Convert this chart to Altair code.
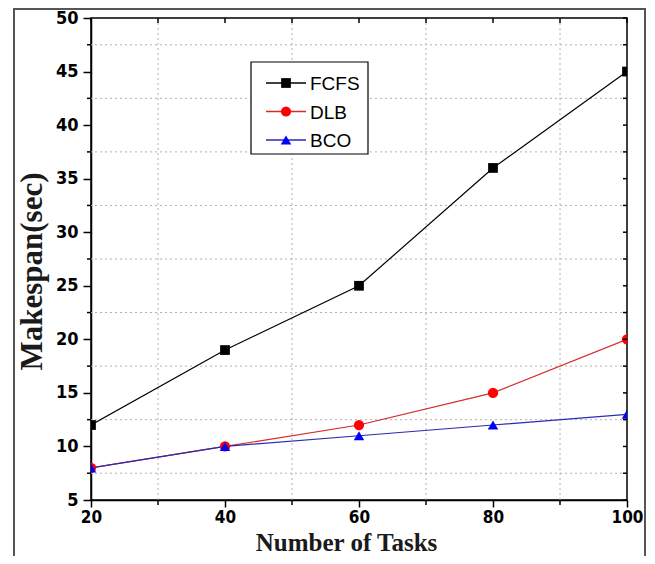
import altair as alt
import pandas as pd

# ---- data ----
tasks = [20, 40, 60, 80, 100]
fcfs = [12, 19, 25, 36, 45]
dlb = [8, 10, 12, 15, 20]
bco = [8, 10, 11, 12, 13]

series_names = ["FCFS", "DLB", "BCO"]
series_values = [fcfs, dlb, bco]
line_colors = ["#000000", "#d42a2a", "#2a2ab4"]
marker_colors = ["#000000", "#ff0000", "#0000ff"]
shapes = ["square", "circle", "triangle-up"]
marker_sizes = [95, 105, 110]

x_major = [20, 40, 60, 80, 100]
x_minor = [30, 50, 70, 90]
y_major = [5, 10, 15, 20, 25, 30, 35, 40, 45, 50]
y_minor = [7.5, 12.5, 17.5, 22.5, 27.5, 32.5, 37.5, 42.5, 47.5]

W, H = 536, 482
LABEL_FONT = "Liberation Sans Narrow, Arial Narrow, DejaVu Sans Condensed, sans-serif"
TITLE_FONT = "Liberation Serif, Times New Roman, serif"

xs = alt.Scale(domain=[20, 100], nice=False, zero=False)
ys = alt.Scale(domain=[5, 50], nice=False, zero=False)

x_axis = alt.Axis(
    values=x_major, tickSize=7, tickWidth=1.5, tickColor="black",
    domainColor="black", domainWidth=1.5, grid=False,
    labelFont=LABEL_FONT, labelFontSize=17, labelFontWeight="bold", labelColor="black",
    labelPadding=2, labelFlush=False,
    title="Number of Tasks", titleFont=TITLE_FONT, titleFontSize=25, titleFontWeight="bold",
    titleColor="#1a1a1a", titleX=255, titleY=50, titleBaseline="alphabetic", titleAlign="center",
)
y_axis = alt.Axis(
    values=y_major, tickSize=8, tickWidth=1.5, tickColor="black",
    domainColor="black", domainWidth=1.5, grid=False,
    labelFont=LABEL_FONT, labelFontSize=18, labelFontWeight="bold", labelColor="black",
    labelPadding=5, labelFlush=False,
    title="Makespan(sec)", titleFont=TITLE_FONT, titleFontSize=31, titleFontWeight="bold",
    titleColor="#1a1a1a", titleX=-59, titleY=253, titleAngle=-90,
    titleBaseline="middle", titleAlign="center",
)


def X(field):
    return alt.X(field, scale=xs, axis=x_axis)


def Y(field):
    return alt.Y(field, scale=ys, axis=y_axis)


rows = []
for name, vals in zip(series_names, series_values):
    for t, v in zip(tasks, vals):
        rows.append({"series": name, "tasks": t, "value": v})
df = pd.DataFrame(rows)

one = pd.DataFrame({"k": [0]})
layers = []

# outer image frame
layers.append(
    alt.Chart(one).mark_rect(fill=None, stroke="#555555", strokeWidth=2, clip=False).encode(
        x=alt.value(-77), x2=alt.value(554), y=alt.value(-9), y2=alt.value(600)
    )
)

# dotted grid at minor positions
layers.append(
    alt.Chart(pd.DataFrame({"v": x_minor})).mark_rule(color="#b0b0b0", strokeDash=[2, 3], strokeWidth=1).encode(
        x=X("v:Q")
    )
)
layers.append(
    alt.Chart(pd.DataFrame({"v": y_minor})).mark_rule(color="#b0b0b0", strokeDash=[2, 3], strokeWidth=1).encode(
        y=Y("v:Q")
    )
)

# series lines and markers
for i, name in enumerate(series_names):
    sub = df[df["series"] == name]
    layers.append(
        alt.Chart(sub).mark_line(color=line_colors[i], strokeWidth=1.2, clip=True).encode(
            x=X("tasks:Q"), y=Y("value:Q")
        )
    )
for i, name in enumerate(series_names):
    sub = df[df["series"] == name]
    layers.append(
        alt.Chart(sub).mark_point(
            shape=shapes[i], filled=True, size=marker_sizes[i], color=marker_colors[i], opacity=1, clip=True
        ).encode(x=X("tasks:Q"), y=Y("value:Q"))
    )

# minor ticks (outward) on bottom and left
layers.append(
    alt.Chart(pd.DataFrame({"v": x_minor})).mark_rule(color="black", strokeWidth=1.5).encode(
        x=X("v:Q"), y=alt.value(H), y2=alt.value(H + 5)
    )
)
layers.append(
    alt.Chart(pd.DataFrame({"v": y_minor})).mark_rule(color="black", strokeWidth=1.5).encode(
        y=Y("v:Q"), x=alt.value(-4), x2=alt.value(0)
    )
)
# inward ticks on top and right
layers.append(
    alt.Chart(pd.DataFrame({"v": x_major + x_minor})).mark_rule(color="black", strokeWidth=1.5).encode(
        x=X("v:Q"), y=alt.value(0), y2=alt.value(5)
    )
)
layers.append(
    alt.Chart(pd.DataFrame({"v": y_major + y_minor})).mark_rule(color="black", strokeWidth=1.5).encode(
        y=Y("v:Q"), x=alt.value(W - 4), x2=alt.value(W)
    )
)

# legend box
LX0, LX1, LY0, LY1 = 160, 277, 44, 136
layers.append(
    alt.Chart(one).mark_rect(fill="white", stroke="black", strokeWidth=1.2).encode(
        x=alt.value(LX0), x2=alt.value(LX1), y=alt.value(LY0), y2=alt.value(LY1)
    )
)
row_y0, row_dy = 65, 28.5
for i, name in enumerate(series_names):
    ry = row_y0 + i * row_dy
    ldf = pd.DataFrame({"series": [name]})
    layers.append(
        alt.Chart(ldf).mark_rule(color=line_colors[i], strokeWidth=1.3).encode(
            x=alt.value(175), x2=alt.value(215), y=alt.value(ry)
        )
    )
    layers.append(
        alt.Chart(ldf).mark_point(
            shape=shapes[i], filled=True, size=marker_sizes[i], color=marker_colors[i], opacity=1
        ).encode(x=alt.value(195), y=alt.value(ry))
    )
    layers.append(
        alt.Chart(ldf).mark_text(
            align="left", baseline="middle", font="Liberation Sans, Arial, sans-serif", fontSize=19, color="black"
        ).encode(x=alt.value(219), y=alt.value(ry + 1), text=alt.Text("series:N"))
    )

chart = alt.layer(*layers).properties(
    width=W, height=H,
    padding={"left": 83, "top": 10, "right": 20, "bottom": 56},
    autosize=alt.AutoSizeParams(type="none"),
).configure_view(stroke="black", strokeWidth=1.5)

chart.save("out.html", embed_options={"renderer": "svg", "actions": False})
